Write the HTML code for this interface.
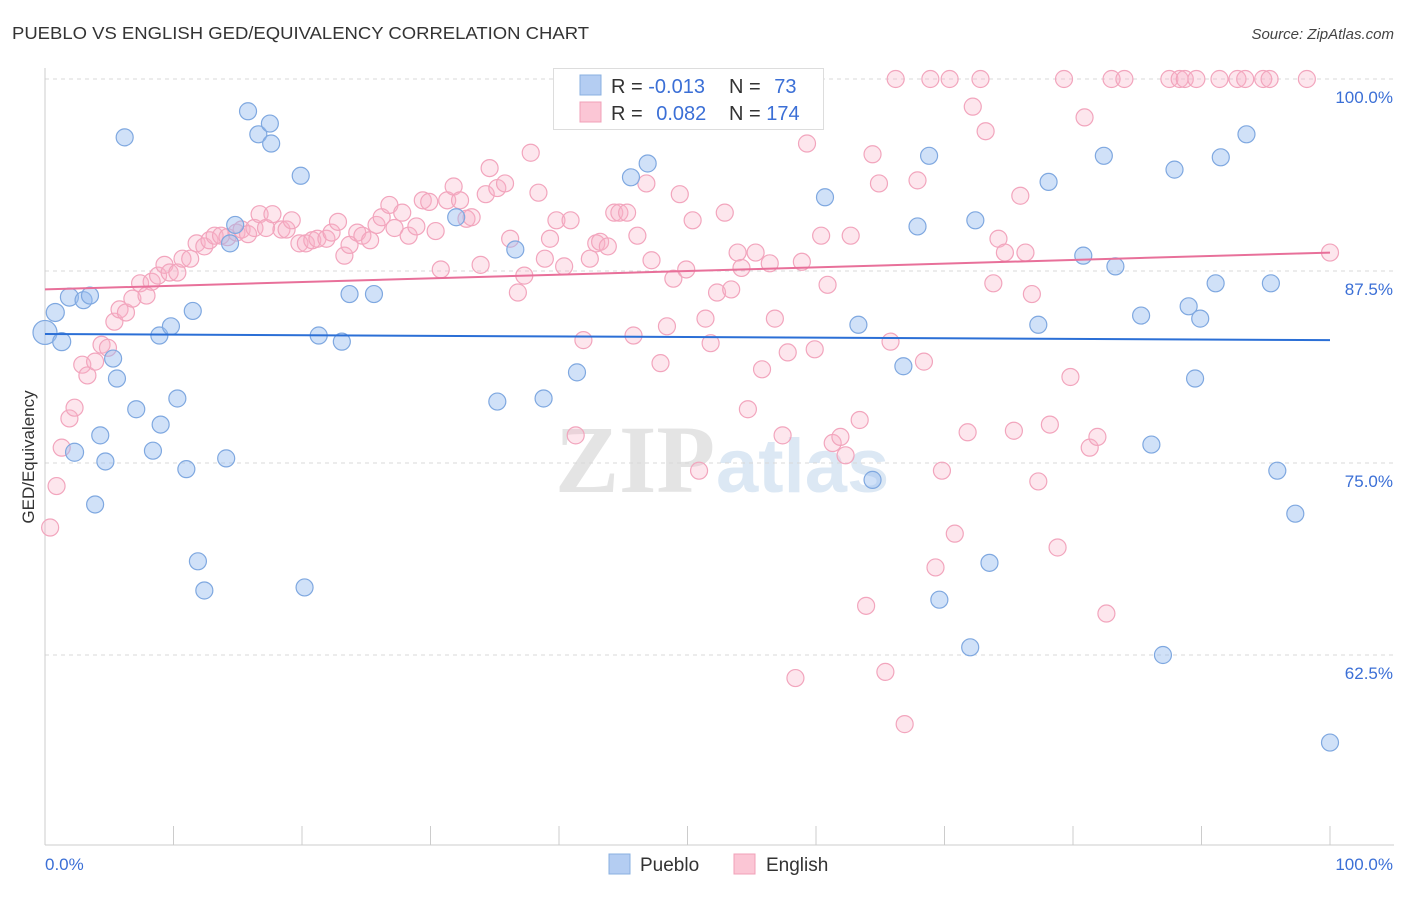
<!DOCTYPE html>
<html><head><meta charset="utf-8"><style>
body{margin:0;background:#fff;font-family:"Liberation Sans",sans-serif;}
</style></head><body>
<svg id="chart" width="1406" height="892" xmlns="http://www.w3.org/2000/svg" style="font-family:'Liberation Sans',sans-serif">
<text x="12" y="39" font-size="17.5" fill="#333" textLength="577" lengthAdjust="spacingAndGlyphs">PUEBLO VS ENGLISH GED/EQUIVALENCY CORRELATION CHART</text>
<text x="1394" y="39" font-size="15" fill="#444" text-anchor="end" font-style="italic">Source: ZipAtlas.com</text>
<g><text x="555" y="492" font-size="96" fill="#e4e4e4" font-family="Liberation Serif" font-weight="bold">ZIP</text><text x="716" y="492" font-size="76" fill="#dce8f4" font-weight="bold">atlas</text></g>
<g id="grid"></g><g id="axes"></g><g id="marks"></g>
<g>
<rect x="553.5" y="68.5" width="270" height="61" fill="#fff" stroke="#ddd"/>
<rect x="580" y="75" width="21" height="20" fill="#b4cdf2" stroke="#8ab0e0"/>
<rect x="580" y="102" width="21" height="20" fill="#fbc6d5" stroke="#f0a0b8"/>
<text x="611" y="93" font-size="20" fill="#333">R = <tspan fill="#3b6fd6">-0.013</tspan></text>
<text x="729" y="93" font-size="20" fill="#333">N = <tspan fill="#3b6fd6" dx="8">73</tspan></text>
<text x="611" y="120" font-size="20" fill="#333">R = <tspan fill="#3b6fd6" dx="8">0.082</tspan></text>
<text x="729" y="120" font-size="20" fill="#333">N = <tspan fill="#3b6fd6">174</tspan></text>
</g>
<g>
<rect x="609" y="854" width="21" height="20" fill="#b4cdf2" stroke="#8ab0e0"/>
<text x="640" y="871" font-size="19" fill="#333">Pueblo</text>
<rect x="734" y="854" width="21" height="20" fill="#fbc6d5" stroke="#f0a0b8"/>
<text x="766" y="871" font-size="19" fill="#333">English</text>
</g>
<text transform="translate(34,457) rotate(-90)" font-size="17" fill="#333" text-anchor="middle">GED/Equivalency</text>
</svg>
<script>
const yTicks=[100,87.5,75,62.5];
const yTickLabels=["100.0%","87.5%","75.0%","62.5%"];
const puebloX=[0,0.8,1.3,1.9,3.0,3.5,6.2,4.3,2.3,4.7,3.9,5.3,5.6,7.1,9.0,8.4,8.9,9.8,10.3,11.0,11.5,11.9,12.4,14.1,14.4,14.8,15.8,16.6,17.5,17.6,19.9,20.2,21.3,23.1,23.7,25.6,32.0,35.2,36.6,38.8,41.4,45.6,46.9,60.7,63.3,64.4,66.8,67.9,68.8,69.6,72.0,72.4,73.5,77.3,78.1,80.8,82.4,83.3,85.3,86.1,87.0,87.9,89.0,89.5,89.9,91.1,91.5,93.5,95.4,95.9,97.3,100];
const puebloY=[83.5,84.8,82.9,85.8,85.6,85.9,96.2,76.8,75.7,75.1,72.3,81.8,80.5,78.5,77.5,75.8,83.3,83.9,79.2,74.6,84.9,68.6,66.7,75.3,89.3,90.5,97.9,96.4,97.1,95.8,93.7,66.9,83.3,82.9,86.0,86.0,91.0,79.0,88.9,79.2,80.9,93.6,94.5,92.3,84.0,73.9,81.3,90.4,95.0,66.1,63.0,90.8,68.5,84.0,93.3,88.5,95.0,87.8,84.6,76.2,62.5,94.1,85.2,80.5,84.4,86.7,94.9,96.4,86.7,74.5,71.7,56.8];
const englishX=[0.4,0.9,1.3,1.9,2.3,2.9,3.3,3.9,4.4,4.9,5.4,5.8,6.3,6.8,7.4,7.9,8.3,8.8,9.3,9.7,10.3,10.7,11.3,11.8,12.4,12.8,13.2,13.7,14.2,14.9,15.3,15.8,16.3,16.7,17.2,17.7,18.4,18.8,19.2,19.8,20.3,20.8,21.2,21.9,22.3,22.8,23.3,23.7,24.3,24.7,25.3,25.8,26.2,26.8,27.2,27.8,28.3,28.9,29.4,29.9,30.4,30.8,31.3,31.8,32.3,32.8,33.2,33.9,34.3,34.6,35.2,35.8,36.2,36.8,37.3,37.8,38.4,38.9,39.3,39.8,40.4,40.9,41.3,41.9,42.4,42.9,43.2,43.8,44.3,44.7,45.3,45.8,46.1,46.8,47.2,47.9,48.4,48.9,49.4,49.9,50.4,50.9,51.4,51.8,52.3,52.9,53.4,53.9,54.2,54.7,55.3,55.8,56.4,56.8,57.4,57.8,58.4,58.9,59.3,59.9,60.4,60.9,61.3,61.9,62.3,62.7,63.4,63.9,64.4,64.9,65.4,65.8,66.2,66.9,67.9,68.4,68.9,69.3,69.8,70.4,70.8,71.8,72.2,72.8,73.2,73.8,74.2,74.7,75.4,75.9,76.3,76.8,77.3,78.2,78.8,79.3,79.8,80.9,81.3,81.9,82.6,83.0,84.0,87.5,88.3,88.7,89.6,91.4,92.8,93.4,94.8,95.3,98.2,100];
const englishY=[70.8,73.5,76.0,77.9,78.6,81.4,80.7,81.6,82.7,82.5,84.2,85.0,84.8,85.7,86.7,85.9,86.8,87.2,87.9,87.4,87.4,88.3,88.3,89.3,89.1,89.5,89.8,89.8,89.7,90.0,90.2,89.9,90.3,91.2,90.3,91.2,90.2,90.2,90.8,89.3,89.3,89.5,89.6,89.6,90.0,90.7,88.5,89.2,90.0,89.8,89.5,90.5,91.0,91.8,90.3,91.3,89.8,90.4,92.1,92.0,90.1,87.6,92.1,93.0,92.1,90.9,91.0,87.9,92.5,94.2,92.9,93.2,89.6,86.1,87.2,95.2,92.6,88.3,89.6,90.8,87.8,90.8,76.8,83.0,88.3,89.3,89.4,89.1,91.3,91.3,91.3,83.3,89.8,93.2,88.2,81.5,83.9,87.0,92.5,87.6,90.8,74.5,84.4,82.8,86.1,91.3,86.3,88.7,87.7,78.5,88.7,81.1,88.0,84.4,76.8,82.2,61.0,88.1,95.8,82.4,89.8,86.6,76.3,76.7,75.5,89.8,77.8,65.7,95.1,93.2,61.4,82.9,100,58.0,93.4,81.6,100,68.2,74.5,100,70.4,77.0,98.2,100,96.6,86.7,89.6,88.7,77.1,92.4,88.7,86.0,73.8,77.5,69.5,100,80.6,97.5,76.0,76.7,65.2,100,100,100,100,100,100,100,100,100,100,100,100,88.7];
const puebloTrend=[83.4,83.0];
const englishTrend=[86.3,88.7];
const X0=45,X1=1330,Y100=79,PX_PER=192/12.5;
const sx=v=>X0+(X1-X0)*v/100, sy=v=>Y100+(100-v)*PX_PER;
const NS="http://www.w3.org/2000/svg";
function mk(p,t,a){const e=document.createElementNS(NS,t);for(const k in a)e.setAttribute(k,a[k]);p.appendChild(e);return e;}
const grid=document.getElementById('grid'),axes=document.getElementById('axes'),marks=document.getElementById('marks');
yTicks.forEach((t,i)=>{
 const l=mk(grid,'line',{x1:45,x2:1394,y1:sy(t),y2:sy(t),stroke:'#d8d8d8','stroke-dasharray':'4,4'});
 
 
 const tx=mk(axes,'text',{x:1393,y:sy(t)+24,'font-size':17,fill:'#3b6fd6','text-anchor':'end'});
 tx.textContent=yTickLabels[i];
 
 
});
const ax=mk(axes,'line',{x1:45,x2:1394,y1:845,y2:845,stroke:'#ccc'});


const ay=mk(axes,'line',{x1:45,x2:45,y1:68,y2:845,stroke:'#ccc'});


for(let i=0;i<=10;i++){const t=mk(axes,'line',{x1:sx(i*10),x2:sx(i*10),y1:826,y2:845,stroke:'#ccc'});
 
 }
const xl0=mk(axes,'text',{x:45,y:870,'font-size':17,fill:'#3b6fd6'});xl0.textContent='0.0%';


const xl1=mk(axes,'text',{x:1393,y:870,'font-size':17,fill:'#3b6fd6','text-anchor':'end'});xl1.textContent='100.0%';


function dots(xs,ys,fill,stroke,name,big){xs.forEach((x,i)=>{
 const r=(x<3&&big)?(i===0?12:9):8.5;
 const c=mk(marks,'circle',{cx:sx(x),cy:sy(ys[i]),r:r,fill:fill,stroke:stroke,'stroke-width':1.2});
 
 });}
dots(englishX,englishY,'rgba(248,176,198,0.32)','#f2a5bd','english-point',false);
dots(puebloX,puebloY,'rgba(150,188,240,0.45)','#7fa8e0','pueblo-point',true);
const tp=mk(marks,'line',{x1:sx(0),x2:sx(100),y1:sy(puebloTrend[0]),y2:sy(puebloTrend[1]),stroke:'#2b6fd6','stroke-width':2});


const te=mk(marks,'line',{x1:sx(0),x2:sx(100),y1:sy(englishTrend[0]),y2:sy(englishTrend[1]),stroke:'#e8709a','stroke-width':2});


</script>
</body></html>
